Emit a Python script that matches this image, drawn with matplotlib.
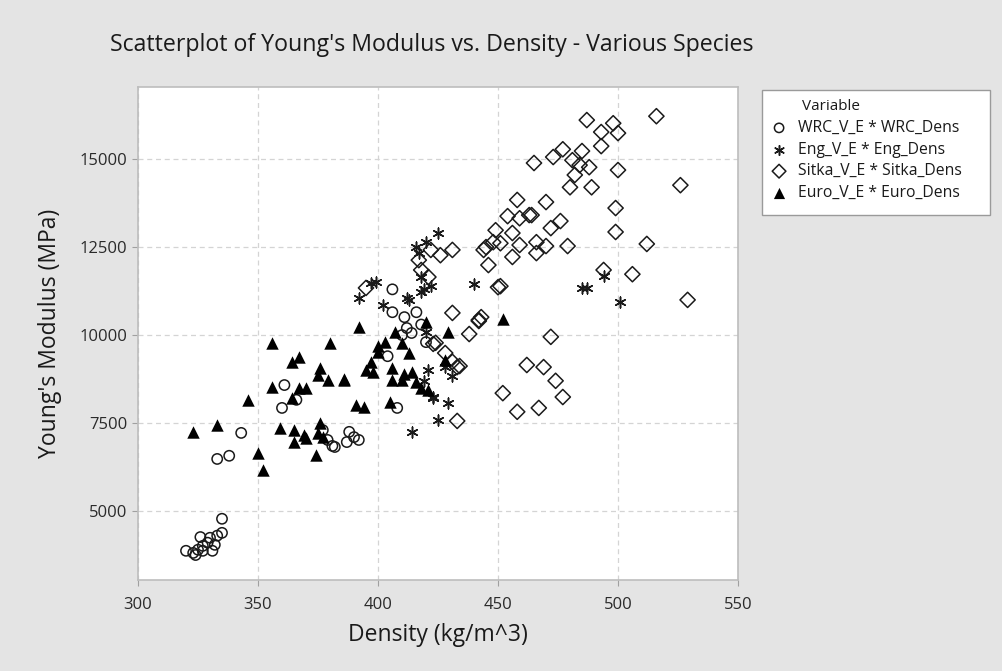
import matplotlib
matplotlib.use("Agg")
import matplotlib.pyplot as plt
from matplotlib.patches import Rectangle
import numpy as np

plt.rcParams['font.family'] = ['Open Sans', 'DejaVu Sans']

# ---- data ----
wrc_dens = [320, 323, 324, 327, 331, 327, 326, 330, 332, 335, 335, 329, 325, 333,
            333, 338, 343, 360, 361, 366, 377, 379, 382, 388, 387, 390, 392, 381,
            406, 411, 416, 414, 408, 404, 410, 418, 406, 420, 412]
wrc_e = [3870, 3810, 3750, 3870, 3870, 4010, 4260, 4240, 4040, 4380, 4780, 4100, 3900, 4300,
         6480, 6570, 7220, 7930, 8580, 8160, 7300, 7020, 6820, 7250, 6960, 7100, 7020, 6850,
         10650, 10510, 10650, 10060, 7930, 9400, 10000, 10300, 11300, 9800, 10200]

eng_dens = [392, 399, 402, 413, 412, 417, 420, 425, 418, 422, 418, 440, 420, 423,
            429, 425, 414, 431, 423, 494, 487, 485, 501, 397, 416, 419, 421, 419, 428]
eng_e = [11050, 11500, 10850, 11000, 11050, 12330, 12640, 12900, 11650, 11390, 11220, 11450, 10090, 8240,
         8070, 7590, 7250, 8840, 8210, 11680, 11340, 11340, 10940, 11480, 12500, 11300, 9000, 8700, 9100]

sitka_dens = [516, 487, 493, 498, 500, 493, 477, 473, 485, 481, 484, 488, 482, 480, 489,
              465, 458, 470, 454, 459, 463, 476, 499, 500, 526, 512, 499, 506, 494, 529,
              464, 472, 449, 456, 479, 445, 451, 459, 466, 470, 456, 466, 446, 451,
              442, 472, 462, 469, 474, 477, 452, 458, 467, 433, 438, 423, 428, 434,
              431, 442, 424, 431, 433, 448, 444, 431, 426, 422, 417, 418, 421, 395, 443, 450]
sitka_e = [16220, 16110, 15770, 16020, 15740, 15370, 15280, 15060, 15230, 14970, 14830, 14770, 14550, 14200, 14200,
           14890, 13840, 13780, 13380, 13320, 13410, 13240, 13610, 14690, 14260, 12590, 12930, 11730, 11850, 11000,
           13410, 13040, 12980, 12900, 12530, 12500, 12610, 12560, 12640, 12530, 12220, 12330, 11990, 11390,
           10430, 9950, 9150, 9090, 8700, 8240, 8350, 7820, 7930, 7560, 10030, 9750, 9490, 9120,
           10630, 10400, 9780, 9240, 9090, 12640, 12420, 12420, 12270, 12420, 12130, 11850, 11650, 11340, 10510, 11360]

euro_dens = [323, 333, 346, 350, 352, 356, 380, 367, 364, 376, 375, 379, 386, 356, 367, 370,
             364, 359, 365, 369, 365, 376, 375, 377, 370, 374,
             392, 420, 429, 407, 410, 403, 400, 397, 406, 414, 395, 398, 406, 410, 416, 418,
             421, 386, 391, 394, 405, 452, 413, 428, 400, 411]
euro_e = [7250, 7450, 8160, 6650, 6170, 9780, 9780, 9380, 9240, 9060, 8870, 8720, 8750, 8530, 8500, 8500,
          8210, 7360, 7300, 7160, 6960, 7500, 7220, 7100, 7080, 6590,
          10230, 10370, 10090, 10090, 9780, 9800, 9520, 9240, 9060, 8950, 9010, 8950, 8720, 8720, 8670, 8500,
          8440, 8720, 8010, 7960, 8100, 10460, 9500, 9300, 9700, 8900]

labels = ["WRC_V_E * WRC_Dens", "Eng_V_E * Eng_Dens",
          "Sitka_V_E * Sitka_Dens", "Euro_V_E * Euro_Dens"]

x_ticks = [300, 350, 400, 450, 500, 550]
y_ticks = [5000, 7500, 10000, 12500, 15000]

# ---- figure ----
bg = "#e4e4e4"
fig = plt.figure(figsize=(10.03, 6.71), dpi=100, facecolor=bg)
ax = fig.add_axes([138 / 1003, 1 - 580 / 671, 600 / 1003, 493 / 671])
ax.set_facecolor("white")

ink = "#1a1a1a"
h1 = ax.scatter(wrc_dens, wrc_e, s=55, marker="o", facecolors="none",
                edgecolors=ink, linewidths=1.1, zorder=3)
h2 = ax.scatter(eng_dens, eng_e, s=60, marker=(6, 2, 0), color=ink,
                linewidths=1.1, zorder=3)
h3 = ax.scatter(sitka_dens, sitka_e, s=60, marker="D", facecolors="none",
                edgecolors=ink, linewidths=1.1, zorder=3)
h4 = ax.scatter(euro_dens, euro_e, s=80, marker="^", color="black",
                linewidths=0, zorder=3)

ax.set_xlim(300, 550)
ax.set_ylim(3040, 17050)
ax.set_xticks(x_ticks)
ax.set_yticks(y_ticks)
ax.tick_params(colors="#a0a0a0", labelcolor="#2a2a2a", labelsize=12, length=4)
ax.tick_params(axis="x", pad=8)
ax.grid(True, color="#d4d4d4", linestyle=(0, (4, 3)), linewidth=0.9)
ax.set_axisbelow(True)
for sp in ax.spines.values():
    sp.set_color("#bdbdbd")
    sp.set_linewidth(1.2)

ax.set_xlabel("Density (kg/m^3)", fontsize=16.5, color="#1a1a1a", va="center")
ax.set_ylabel("Young's Modulus (MPa)", fontsize=16.5, color="#1a1a1a", va="center")
ax.xaxis.set_label_coords(0.5, -0.112)
ax.yaxis.set_label_coords(-0.147, 0.5)

fig.text(0.43, 1 - 45 / 671, "Scatterplot of Young's Modulus vs. Density - Various Species",
         ha="center", va="center", fontsize=16.7, color="#1a1a1a")

# legend box
fig.patches.append(Rectangle((762 / 1003, 1 - 215 / 671), 228 / 1003, 125 / 671,
                             transform=fig.transFigure, facecolor="white",
                             edgecolor="#9a9a9a", linewidth=1.0, zorder=1))
fig.text(802 / 1003, 1 - 106 / 671, "Variable", fontsize=11, va="center",
         color="#1a1a1a")
fig.legend([h1, h2, h3, h4], labels, loc="upper left",
           bbox_to_anchor=(772 / 1003, 1 - 120 / 671), frameon=False,
           fontsize=11.3, labelspacing=0.36, handletextpad=0.75,
           handlelength=0.9, borderaxespad=0, borderpad=0, labelcolor="#1a1a1a",
           markerscale=0.9)

fig.savefig("out.png", dpi=100, facecolor=bg)
